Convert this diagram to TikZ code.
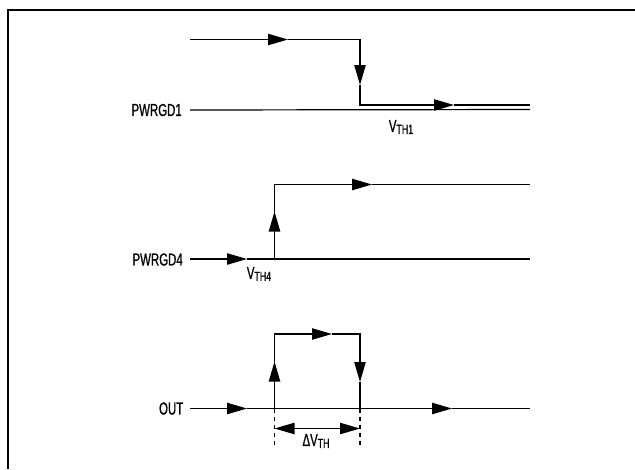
\documentclass[tikz,border=0pt]{standalone}
\usepackage{fontspec}
\setmainfont[FakeStretch=0.66,FakeBold=0.8]{Liberation Sans}
\usetikzlibrary{arrows.meta}
\newcommand{\vth}[1]{V\raisebox{-1.5pt}{\fontsize{10}{11}\selectfont #1}}
\tikzset{
    sig/.style={line width=0.9pt},
    flow/.style={sig, -{Triangle[length=15pt,width=8.5pt]}},
    lbl/.style={anchor=east, inner sep=0pt, font=\fontsize{13}{15}\selectfont},
    thr/.style={inner sep=0pt, font=\fontsize{13}{15}\selectfont},
}
\begin{document}
\begin{tikzpicture}[x=0.75pt, y=-0.75pt]
        \useasboundingbox (0,0) rectangle (635,469);

        % Frame
        \draw[line width=1.5pt] (8,469) -- (8,10) -- (635,10);

        % PWRGD1
        \node[lbl] (pg1) at (182,110) {PWRGD1};
        \coordinate (a0) at (190,39.5);
        \coordinate (a1) at (288,39.5);
        \coordinate (a2) at (360,39.5);
        \coordinate (a3) at (360,85);
        \coordinate (a4) at (360,105);
        \coordinate (a5) at (454,105);
        \coordinate (a6) at (530,105);
        \coordinate (b1) at (530,109.5);
        \draw[flow] (a0) -- (a1);
        \draw[flow] (a1) -- (a2) -- (a3);
        \draw[flow] (a3) -- (a4) -- (a5);
        \draw[sig] (a5) -- (a6);
        \draw[sig] (pg1.east -| a0) -- (b1);
        \node[thr] (v1) at (401,127) {\vth{TH1}};

        % PWRGD4
        \node[lbl] (pg4) at (183,259.5) {PWRGD4};
        \coordinate (c0) at (190,259);
        \coordinate (c1) at (247,259);
        \coordinate (c2) at (274.5,259);
        \coordinate (c3) at (274.5,211.5);
        \coordinate (c4) at (274.5,184.5);
        \coordinate (c5) at (372,184.5);
        \coordinate (c6) at (530,184.5);
        \coordinate (c7) at (530,259);
        \draw[flow] (c0) -- (c1);
        \draw[sig] (c1) -- (c7);
        \draw[flow] (c2) -- (c3);
        \draw[flow] (c3) -- (c4) -- (c5);
        \draw[sig] (c5) -- (c6);
        \node[thr] (v4) at (259,274) {\vth{TH4}};

        % OUT
        \node[lbl] (out) at (183.5,408.5) {OUT};
        \coordinate (d0) at (190,408.5);
        \coordinate (d1) at (247,408.5);
        \coordinate (d2) at (274.5,408.5);
        \coordinate (d3) at (274.5,361.5);
        \coordinate (d4) at (274.5,334);
        \coordinate (d5) at (332,334);
        \coordinate (d6) at (360,334);
        \coordinate (d7) at (360,382);
        \coordinate (d8) at (360,408.5);
        \coordinate (d9) at (452,408.5);
        \coordinate (d10) at (530,408.5);
        \draw[flow] (d0) -- (d1);
        \draw[flow] (d1) -- (d9);
        \draw[sig] (d9) -- (d10);
        \draw[flow] (d2) -- (d3);
        \draw[flow] (d3) -- (d4) -- (d5);
        \draw[flow] (d5) -- (d6) -- (d7);
        \draw[sig] (d7) -- (d8);

        % Hysteresis
        \coordinate (h1) at (274.5,447);
        \coordinate (h2) at (360,447);
        \draw[sig, dash pattern=on 3.5pt off 2.5pt] (d2) -- (h1);
        \draw[sig, dash pattern=on 3.5pt off 2.5pt] (d8) -- (h2);
        \draw[sig, {Triangle[length=15pt,width=8.5pt]}-{Triangle[length=15pt,width=8.5pt]}] (274.5,428.5) -- (360,428.5);
        \node[thr] (dv) at (316,441) {Δ\vth{TH}};
\end{tikzpicture}
\end{document}
